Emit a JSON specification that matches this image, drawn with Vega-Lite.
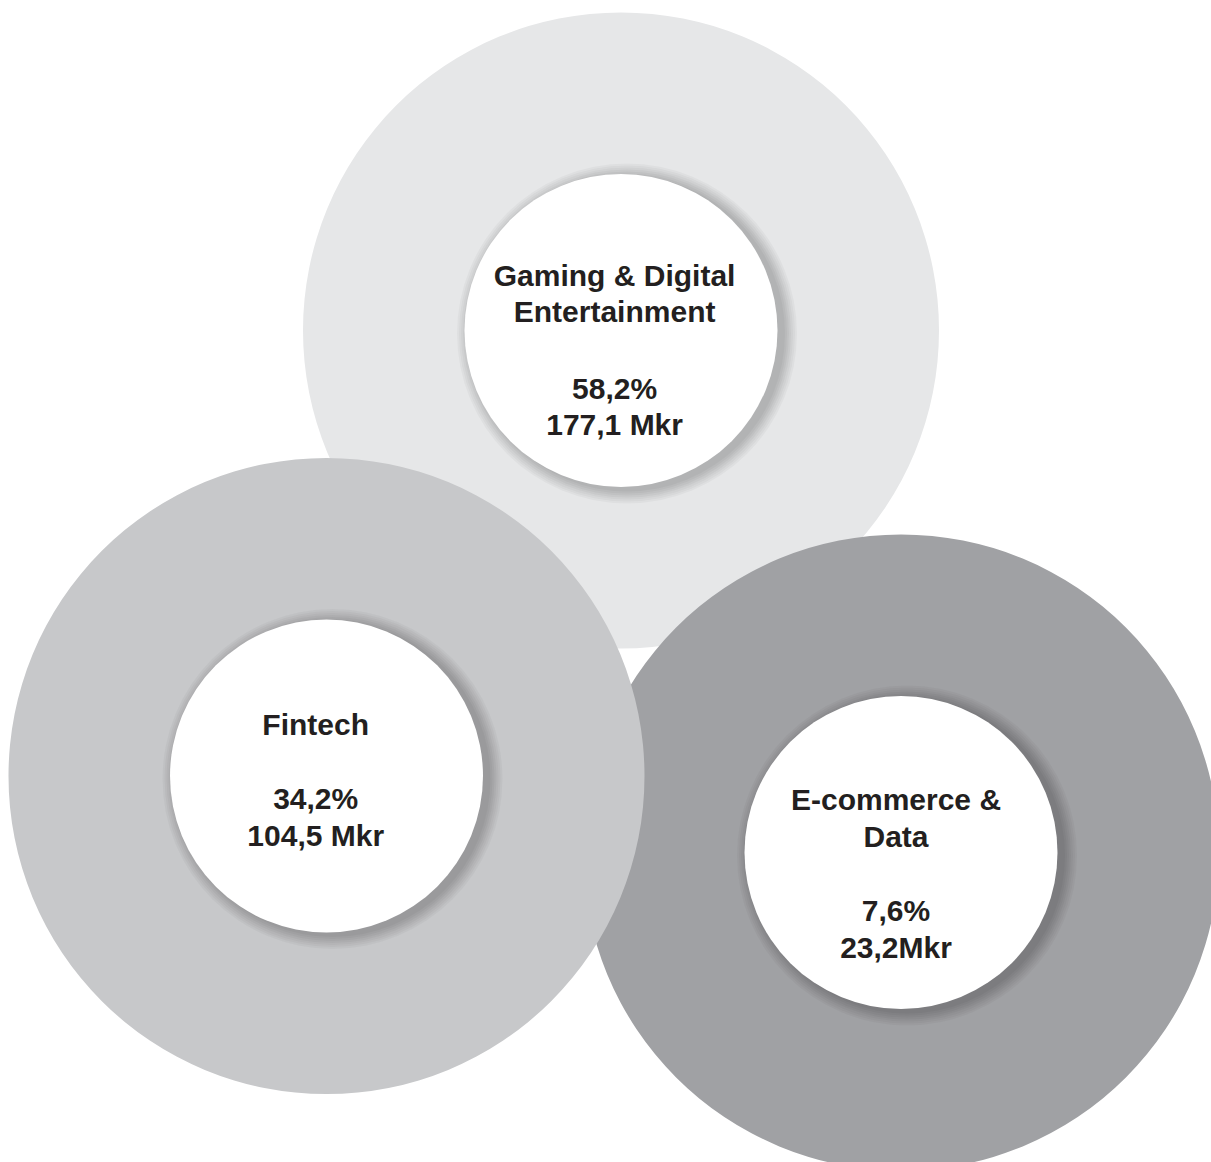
{
  "$schema": "https://vega.github.io/schema/vega-lite/v6.json",
  "description": "Segment share of revenue, three overlapping donut circles",
  "width": 1211,
  "height": 1162,
  "padding": 0,
  "autosize": "none",
  "background": "white",
  "config": {"view": {"stroke": null}},
  "data": {
    "values": [
      {"segment": "Gaming & Digital Entertainment", "share": 58.2, "amount": 177.1, "cx": 621, "cy": 330.5, "lx": 614.6, "ly": 285.7, "vy": 398.7, "name": "Gaming & Digital\nEntertainment", "value": "58,2%\n177,1 Mkr"},
      {"segment": "E-commerce & Data", "share": 7.6, "amount": 23.2, "cx": 901, "cy": 852.5, "lx": 896, "ly": 810.3, "vy": 921.3, "name": "E-commerce &\nData", "value": "7,6%\n23,2Mkr"},
      {"segment": "Fintech", "share": 34.2, "amount": 104.5, "cx": 326.5, "cy": 776, "lx": 315.7, "ly": 734.8, "vy": 809, "name": "Fintech", "value": "34,2%\n104,5 Mkr"}
    ]
  },
  "encoding": {
    "x": {"field": "cx", "type": "quantitative", "scale": {"domain": [0, 1211], "nice": false, "zero": false}, "axis": null},
    "y": {"field": "cy", "type": "quantitative", "scale": {"domain": [0, 1162], "nice": false, "zero": false, "reverse": true}, "axis": null}
  },
  "layer": [
    {
      "mark": {"type": "circle", "size": 404496, "opacity": 1, "strokeWidth": 0},
      "encoding": {
        "color": {
          "field": "segment", "type": "nominal", "legend": null,
          "scale": {
            "domain": ["Gaming & Digital Entertainment", "Fintech", "E-commerce & Data"],
            "range": ["#e6e7e8", "#c7c8ca", "#a0a1a4"]
          }
        }
      }
    },
    {"mark": {"type": "circle", "size": 115600, "color": "black", "opacity": 0.03, "strokeWidth": 0, "xOffset": 6, "yOffset": 3}},
    {"mark": {"type": "circle", "size": 112896, "color": "black", "opacity": 0.03, "strokeWidth": 0, "xOffset": 6, "yOffset": 3}},
    {"mark": {"type": "circle", "size": 110224, "color": "black", "opacity": 0.03, "strokeWidth": 0, "xOffset": 6, "yOffset": 3}},
    {"mark": {"type": "circle", "size": 107584, "color": "black", "opacity": 0.035, "strokeWidth": 0, "xOffset": 6, "yOffset": 3}},
    {"mark": {"type": "circle", "size": 104976, "color": "black", "opacity": 0.035, "strokeWidth": 0, "xOffset": 6, "yOffset": 3}},
    {"mark": {"type": "circle", "size": 102400, "color": "black", "opacity": 0.035, "strokeWidth": 0, "xOffset": 6, "yOffset": 3}},
    {"mark": {"type": "circle", "size": 99856, "color": "black", "opacity": 0.035, "strokeWidth": 0, "xOffset": 6, "yOffset": 3}},
    {"mark": {"type": "circle", "size": 97969, "color": "white", "opacity": 1, "strokeWidth": 0}},
    {
      "mark": {
        "type": "text", "font": "Liberation Sans", "fontWeight": "bold", "fontSize": 30,
        "lineHeight": 36.6, "lineBreak": "\n", "align": "center", "baseline": "alphabetic", "color": "#231f20"
      },
      "encoding": {
        "x": {"field": "lx", "type": "quantitative"},
        "y": {"field": "ly", "type": "quantitative"},
        "text": {"field": "name", "type": "nominal"}
      }
    },
    {
      "mark": {
        "type": "text", "font": "Liberation Sans", "fontWeight": "bold", "fontSize": 30,
        "lineHeight": 36.6, "lineBreak": "\n", "align": "center", "baseline": "alphabetic", "color": "#231f20"
      },
      "encoding": {
        "x": {"field": "lx", "type": "quantitative"},
        "y": {"field": "vy", "type": "quantitative"},
        "text": {"field": "value", "type": "nominal"}
      }
    }
  ]
}
